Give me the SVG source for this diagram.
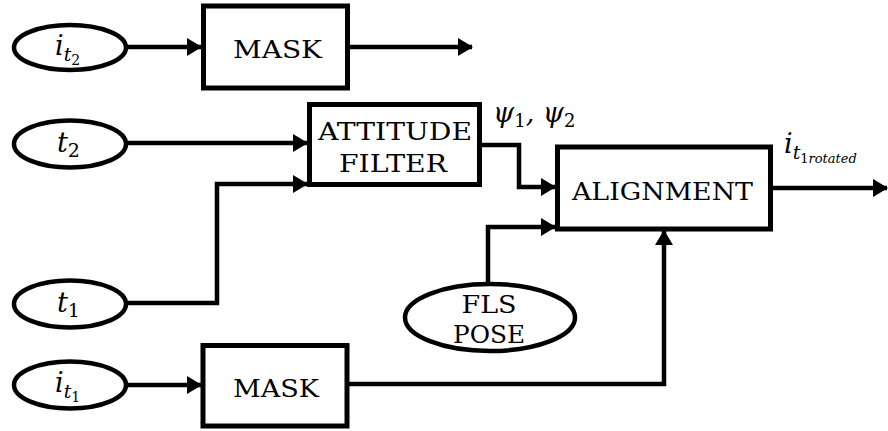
<svg xmlns="http://www.w3.org/2000/svg" width="888" height="431" viewBox="0 0 888 431">
  <style>
    .box { fill: #fff; stroke: #000; stroke-width: 5; }
    .oval { fill: #fff; stroke: #000; stroke-width: 4.5; }
    .wire { fill: none; stroke: #000; stroke-width: 4.5; stroke-linejoin: miter; }
    .lbl { font-family: "DejaVu Serif", serif; font-size: 25px; fill: #000; text-anchor: middle; }
    .math { font-family: "DejaVu Serif", serif; font-style: italic; font-size: 27px; fill: #000; }
    .up { font-style: normal; }
  </style>
  <defs>
    <marker id="arrow" viewBox="0 0 15 18" refX="14" refY="9" markerWidth="15" markerHeight="18" markerUnits="userSpaceOnUse" orient="auto">
      <path d="M0,0 L15,9 L0,18 z" fill="#000"/>
    </marker>
  </defs>

  <!-- connectors -->
  <g id="connectors">
    <path class="wire" d="M128,47 H201" marker-end="url(#arrow)"/>
    <path class="wire" d="M349,47 H472" marker-end="url(#arrow)"/>
    <path class="wire" d="M128,143 H307" marker-end="url(#arrow)"/>
    <path class="wire" d="M128,303 H217 V184 H307" marker-end="url(#arrow)"/>
    <path class="wire" d="M482,145 H519 V187 H555" marker-end="url(#arrow)"/>
    <path class="wire" d="M488,282 V227 H555" marker-end="url(#arrow)"/>
    <path class="wire" d="M128,385 H201" marker-end="url(#arrow)"/>
    <path class="wire" d="M349,384 H664 V231" marker-end="url(#arrow)"/>
    <path class="wire" d="M773,188 H887" marker-end="url(#arrow)"/>
    <text class="math" x="493" y="122">ψ<tspan class="up" font-size="18" dy="5">1</tspan><tspan dy="-5">, ψ</tspan><tspan class="up" font-size="18" dy="5">2</tspan></text>
    <text class="math" x="784" y="153">i<tspan font-size="19" dy="6">t</tspan><tspan font-size="13" dy="4"><tspan class="up">1</tspan>rotated</tspan></text>
  </g>

  <!-- input nodes -->
  <g id="in-it2">
    <ellipse class="oval" cx="70" cy="47.5" rx="56" ry="22.5"/>
    <text class="math" x="55" y="55">i<tspan font-size="19" dy="6">t</tspan><tspan class="up" font-size="14" dy="4">2</tspan></text>
  </g>
  <g id="in-t2">
    <ellipse class="oval" cx="70" cy="144" rx="56" ry="23.5"/>
    <text class="math" x="57" y="152">t<tspan class="up" font-size="19" dy="5">2</tspan></text>
  </g>
  <g id="in-t1">
    <ellipse class="oval" cx="70" cy="304" rx="56" ry="23.5"/>
    <text class="math" x="57" y="312">t<tspan class="up" font-size="19" dy="5">1</tspan></text>
  </g>
  <g id="in-it1">
    <ellipse class="oval" cx="70" cy="385" rx="56" ry="23.5"/>
    <text class="math" x="55" y="392">i<tspan font-size="19" dy="6">t</tspan><tspan class="up" font-size="14" dy="4">1</tspan></text>
  </g>
  <g id="in-fls-pose">
    <ellipse class="oval" cx="490" cy="317.5" rx="85" ry="33.5"/>
    <text class="lbl" x="489" y="313" textLength="55" lengthAdjust="spacingAndGlyphs">FLS</text>
    <text class="lbl" x="489" y="343" textLength="72" lengthAdjust="spacingAndGlyphs">POSE</text>
  </g>

  <!-- processing blocks -->
  <g id="mask-top">
    <rect class="box" x="203.5" y="6" width="144" height="82"/>
    <text class="lbl" x="277.5" y="58" textLength="89" lengthAdjust="spacingAndGlyphs">MASK</text>
  </g>
  <g id="attitude-filter">
    <rect class="box" x="309.5" y="104.5" width="170" height="80"/>
    <text class="lbl" x="395" y="140" textLength="154" lengthAdjust="spacingAndGlyphs">ATTITUDE</text>
    <text class="lbl" x="393" y="172" textLength="108" lengthAdjust="spacingAndGlyphs">FILTER</text>
  </g>
  <g id="alignment">
    <rect class="box" x="557.5" y="147" width="213" height="82"/>
    <text class="lbl" x="662.5" y="200" textLength="181" lengthAdjust="spacingAndGlyphs">ALIGNMENT</text>
  </g>
  <g id="mask-bottom">
    <rect class="box" x="203" y="345.5" width="144" height="80.5"/>
    <text class="lbl" x="276" y="397" textLength="86" lengthAdjust="spacingAndGlyphs">MASK</text>
  </g>
</svg>
